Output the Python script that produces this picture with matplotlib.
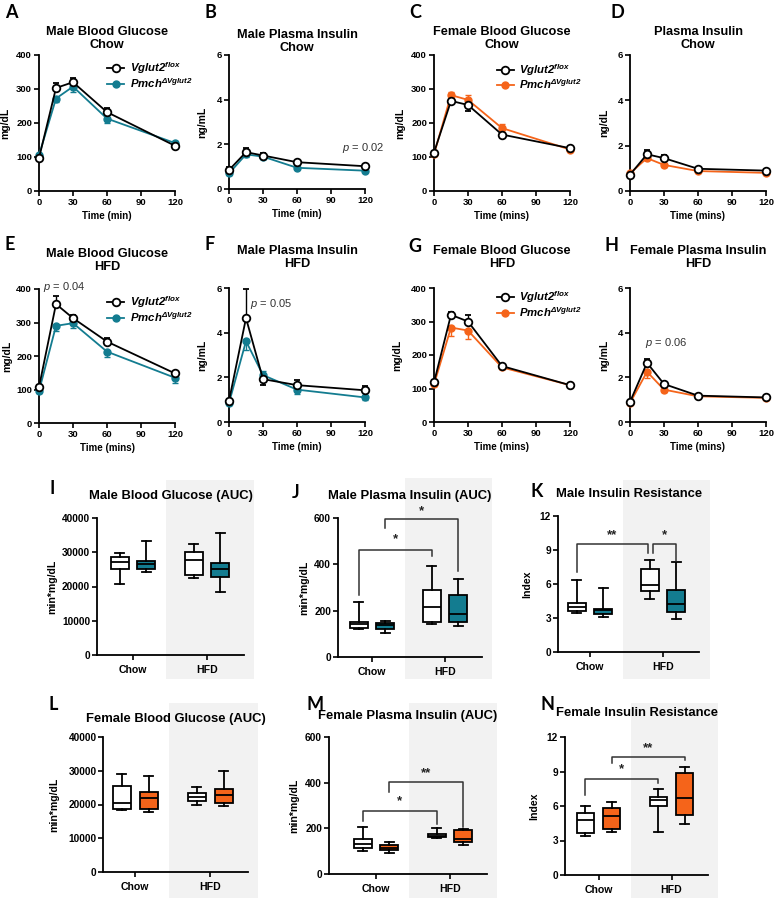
import matplotlib
matplotlib.use('Agg')
import matplotlib.pyplot as plt
from matplotlib.patches import Rectangle
from matplotlib import font_manager

# ---------------- data ----------------
time = [0, 15, 30, 60, 120]
time_ticks = [0, 30, 60, 90, 120]

# A: Male blood glucose, chow
A_ctrl = [97, 303, 320, 232, 133]
A_ctrl_err = [5, 15, 12, 12, 5]
A_ko = [105, 272, 307, 213, 141]
A_ko_err = [5, 10, 15, 12, 5]
# B: Male plasma insulin, chow
B_ctrl = [0.85, 1.65, 1.50, 1.20, 1.02]
B_ctrl_err = [0.12, 0.18, 0.10, 0.06, 0.05]
B_ko = [0.70, 1.55, 1.45, 0.95, 0.82]
B_ko_err = [0.08, 0.12, 0.10, 0.06, 0.05]
# C: Female blood glucose, chow
C_ctrl = [113, 265, 253, 166, 126]
C_ctrl_err = [5, 10, 18, 10, 5]
C_ko = [108, 282, 268, 185, 122]
C_ko_err = [5, 10, 15, 12, 5]
# D: Female plasma insulin, chow
D_ctrl = [0.72, 1.62, 1.45, 0.98, 0.90]
D_ctrl_err = [0.05, 0.20, 0.15, 0.05, 0.05]
D_ko = [0.78, 1.45, 1.15, 0.88, 0.80]
D_ko_err = [0.05, 0.10, 0.08, 0.05, 0.05]
# E: Male blood glucose, HFD
E_ctrl = [107, 355, 313, 243, 148]
E_ctrl_err = [5, 25, 10, 10, 5]
E_ko = [95, 290, 298, 213, 135]
E_ko_err = [5, 15, 15, 15, 15]
# F: Male plasma insulin, HFD
F_ctrl = [0.95, 4.65, 1.92, 1.65, 1.42]
F_ctrl_err = [0.10, 1.30, 0.25, 0.25, 0.20]
F_ko = [0.85, 3.62, 2.10, 1.45, 1.10]
F_ko_err = [0.10, 0.40, 0.20, 0.20, 0.10]
# G: Female blood glucose, HFD
G_ctrl = [118, 320, 300, 167, 110]
G_ctrl_err = [8, 8, 18, 5, 3]
G_ko = [112, 282, 273, 163, 110]
G_ko_err = [5, 25, 25, 5, 3]
# H: Female plasma insulin, HFD
H_ctrl = [0.90, 2.65, 1.70, 1.18, 1.10]
H_ctrl_err = [0.05, 0.15, 0.10, 0.05, 0.05]
H_ko = [0.85, 2.25, 1.45, 1.15, 1.08]
H_ko_err = [0.05, 0.30, 0.10, 0.05, 0.05]

groups = ['Chow', 'HFD']
# box stats: [min, q1, median, q3, max]
I_chow_ctrl = [20800, 25250, 27200, 28500, 29800]
I_chow_ko = [24100, 25250, 26500, 27500, 33300]
I_hfd_ctrl = [22500, 23300, 27800, 30000, 32400]
I_hfd_ko = [18400, 22900, 25250, 27000, 35700]

J_chow_ctrl = [119, 125, 141, 151, 237]
J_chow_ko = [102, 121, 138, 146, 156]
J_hfd_ctrl = [143, 151, 214, 288, 393]
J_hfd_ko = [134, 153, 185, 266, 335]

K_chow_ctrl = [3.45, 3.63, 3.98, 4.28, 6.34]
K_chow_ko = [3.10, 3.39, 3.69, 3.83, 5.69]
K_hfd_ctrl = [4.66, 5.34, 5.90, 7.29, 8.10]
K_hfd_ko = [2.95, 3.50, 4.20, 5.45, 7.96]

L_chow_ctrl = [18300, 18800, 20300, 25400, 29000]
L_chow_ko = [17650, 18800, 21800, 23700, 28400]
L_hfd_ctrl = [20000, 21100, 22150, 23500, 25200]
L_hfd_ko = [19700, 20500, 22800, 24500, 29800]

M_chow_ctrl = [99, 116, 131, 153, 208]
M_chow_ko = [94, 106, 116, 128, 140]
M_hfd_ctrl = [157, 162, 168, 177, 200]
M_hfd_ko = [128, 140, 154, 192, 196]

N_chow_ctrl = [3.38, 3.67, 4.77, 5.40, 6.04]
N_chow_ko = [3.73, 3.96, 5.12, 5.81, 6.36]
N_hfd_ctrl = [3.76, 6.04, 6.56, 6.79, 7.49]
N_hfd_ko = [4.42, 5.20, 6.70, 8.87, 9.39]

# ---------------- style ----------------
TEAL = '#137c90'
ORANGE = '#f5641a'
BAND = '#f2f2f2'
plt.rcParams['font.family'] = ['Liberation Sans', 'DejaVu Sans']
plt.rcParams['font.weight'] = 'bold'
plt.rcParams['axes.labelweight'] = 'bold'
plt.rcParams['axes.titleweight'] = 'bold'
plt.rcParams['mathtext.fontset'] = 'custom'
plt.rcParams['mathtext.rm'] = 'Liberation Sans:weight=normal'
plt.rcParams['mathtext.it'] = 'Liberation Sans:style=italic:weight=normal'
plt.rcParams['mathtext.bf'] = 'Liberation Sans:weight=bold'
plt.rcParams['mathtext.bfit'] = 'Liberation Sans:style=italic:weight=bold'

names = {f.name for f in font_manager.fontManager.ttflist}
LETTER_FONT = 'Lato' if 'Lato' in names else 'Liberation Sans'

LBL_CTRL = r'$\mathbfit{Vglut2}^{\mathbfit{flox}}$'
LBL_KO = r'$\mathbfit{Pmch}^{\mathbfit{\Delta Vglut2}}$'

W, H = 774, 898
fig = plt.figure(figsize=(W / 100, H / 100), dpi=100)


def add_ax(left, top, right, bottom):
    ax = fig.add_axes([left / W, 1 - bottom / H, (right - left) / W, (bottom - top) / H])
    ax.set_facecolor('none')
    for s in ('top', 'right'):
        ax.spines[s].set_visible(False)
    for s in ('left', 'bottom'):
        ax.spines[s].set_linewidth(1.3)
    return ax


def letter(x, y, s, size=13):
    fig.text(x / W, 1 - y / H, s, fontsize=size, fontweight='bold', family=LETTER_FONT,
             ha='left', va='top')


def line_panel(px, ctrl, ctrl_err, ko, ko_err, color, ymax, yticks, ylabel, ylab_x,
               xlabel, title, tpad, legend_anchor=None, pval=None):
    ax = add_ax(*px)
    up = [c >= k for c, k in zip(ctrl, ko)]
    ko_yerr = [[e if u else 0 for u, e in zip(up, ko_err)],
               [0 if u else e for u, e in zip(up, ko_err)]]
    ctrl_yerr = [[0 if u else e for u, e in zip(up, ctrl_err)],
                 [e if u else 0 for u, e in zip(up, ctrl_err)]]
    hk = ax.errorbar(time, ko, yerr=ko_yerr, color=color, marker='o', ms=5, mfc=color,
                     mec=color, lw=1.3, elinewidth=1, capsize=2.2, capthick=1, zorder=3)
    hc = ax.errorbar(time, ctrl, yerr=ctrl_yerr, color='black', marker='o', ms=5.5,
                     mfc='white', mec='black', mew=1.3, lw=1.3, elinewidth=1, capsize=2.2,
                     capthick=1, zorder=4)
    for cont in (hk, hc):
        for art in cont.get_children():
            art.set_clip_on(False)
    ax.set_xlim(0, 120)
    ax.set_xticks(time_ticks)
    ax.set_ylim(0, ymax)
    ax.set_yticks(yticks)
    ax.tick_params(direction='out', length=3.5, width=1.2, labelsize=6.8, pad=1.5)
    ax.set_title(title, fontsize=9.2, pad=tpad, linespacing=1.1)
    ax.set_xlabel(xlabel, fontsize=7, labelpad=3)
    ax.set_ylabel(ylabel, fontsize=7.5)
    ax.yaxis.set_label_coords(ylab_x, 0.5)
    if legend_anchor is not None:
        ax.legend([hc[0], hk[0]], [LBL_CTRL, LBL_KO], loc='upper left',
                  bbox_to_anchor=legend_anchor, frameon=False, fontsize=8.2,
                  handlelength=1.5, handletextpad=0.5, labelspacing=0.0,
                  borderaxespad=0, borderpad=0)
    if pval is not None:
        x, y, s = pval
        ax.text(x, y, r'$p$ = ' + s, fontsize=8, fontweight='normal', color='#333333',
                ha='center', va='center')
    return ax


def box_panel(yaxis_x, chow_x, hfd_x, top, bottom, stats, color, ymax, yticks,
              ylabel, ylab_x, title, tpad, brackets, band_y):
    unit = hfd_x - chow_x
    ax = add_ax(yaxis_x, top, chow_x + 1.5 * unit, bottom)
    ax.set_xlim((yaxis_x - chow_x) / unit, 1.5)
    ax.set_ylim(0, ymax)
    pos = [-0.18, 0.18, 0.82, 1.18]
    bstats = []
    for s in stats:
        bstats.append({'whislo': s[0], 'q1': s[1], 'med': s[2], 'q3': s[3],
                       'whishi': s[4], 'fliers': []})
    bp = ax.bxp(bstats, positions=pos, widths=0.24, capwidths=0.12, patch_artist=True,
                showfliers=False,
                boxprops=dict(linewidth=1.3, edgecolor='black'),
                medianprops=dict(linewidth=1.3, color='black'),
                whiskerprops=dict(linewidth=1.3, color='black'),
                capprops=dict(linewidth=1.3, color='black'))
    for i, patch in enumerate(bp['boxes']):
        patch.set_facecolor('white' if i % 2 == 0 else color)
    ax.set_xticks([0, 1])
    ax.set_xticklabels(groups, fontsize=7.6)
    ax.set_yticks(yticks)
    ax.tick_params(axis='y', direction='out', length=3.5, width=1.2, pad=1.5, labelsize=7.3)
    ax.tick_params(axis='x', direction='out', length=3.5, width=1.2, pad=4)
    ax.set_title(title, fontsize=9.4, pad=tpad)
    ax.set_ylabel(ylabel, fontsize=7.6)
    ax.yaxis.set_label_coords(ylab_x, 0.5)
    for (i, j, ybar, yb1, yb2, txt, ty) in brackets:
        x1, x2 = pos[i[0]] + i[1], pos[j[0]] + j[1]
        ax.plot([x1, x1, x2, x2], [yb1, ybar, ybar, yb2], color='#333333', lw=1.1,
                clip_on=False)
        ax.text((x1 + x2) / 2, ty, txt, ha='center', va='center', fontsize=9.5,
                fontweight='bold', color='#222222', clip_on=False)
    # background band for HFD
    x0 = ax.transData.transform((0.45, 0))[0]
    x1b = ax.transData.transform((1.64, 0))[0]
    y0, y1 = band_y
    fig.patches.append(Rectangle((x0 / W, 1 - y1 / H), (x1b - x0) / W, (y1 - y0) / H,
                                 transform=fig.transFigure, facecolor=BAND,
                                 edgecolor='none', zorder=-1))
    return ax


# ---------------- row 1 ----------------
line_panel((39, 55, 175, 191), A_ctrl, A_ctrl_err, A_ko, A_ko_err, TEAL, 400,
           [0, 100, 200, 300, 400], 'mg/dL', -0.215, 'Time (min)',
           'Male Blood Glucose\nChow', 5, legend_anchor=(0.5, 0.96))
line_panel((229, 55, 365, 189), B_ctrl, B_ctrl_err, B_ko, B_ko_err, TEAL, 6,
           [0, 2, 4, 6], 'ng/mL', -0.16, 'Time (min)',
           'Male Plasma Insulin\nChow', 3, pval=(118, 1.85, '0.02'))
line_panel((434, 55, 570, 191), C_ctrl, C_ctrl_err, C_ko, C_ko_err, ORANGE, 400,
           [0, 100, 200, 300, 400], 'mg/dL', -0.21, 'Time (mins)',
           'Female Blood Glucose\nChow', 5, legend_anchor=(0.46, 0.95))
line_panel((630, 55, 766, 191), D_ctrl, D_ctrl_err, D_ko, D_ko_err, ORANGE, 6,
           [0, 2, 4, 6], 'ng/dL', -0.155, 'Time (mins)',
           'Plasma Insulin\nChow', 5)

# ---------------- row 2 ----------------
line_panel((39, 289, 175, 423), E_ctrl, E_ctrl_err, E_ko, E_ko_err, TEAL, 400,
           [0, 100, 200, 300, 400], 'mg/dL', -0.2, 'Time (mins)',
           'Male Blood Glucose\nHFD', 14, legend_anchor=(0.5, 0.96),
           pval=(22, 405, '0.04'))
line_panel((229, 288, 365, 422), F_ctrl, F_ctrl_err, F_ko, F_ko_err, TEAL, 6,
           [0, 2, 4, 6], 'ng/mL', -0.16, 'Time (min)',
           'Male Plasma Insulin\nHFD', 15, pval=(37, 5.3, '0.05'))
line_panel((434, 288, 570, 422), G_ctrl, G_ctrl_err, G_ko, G_ko_err, ORANGE, 400,
           [0, 100, 200, 300, 400], 'mg/dL', -0.23, 'Time (mins)',
           'Female Blood Glucose\nHFD', 15, legend_anchor=(0.46, 0.99))
line_panel((630, 288, 766, 422), H_ctrl, H_ctrl_err, H_ko, H_ko_err, ORANGE, 6,
           [0, 2, 4, 6], 'ng/mL', -0.155, 'Time (mins)',
           'Female Plasma Insulin\nHFD', 15, pval=(32, 3.55, '0.06'))

# ---------------- row 3 ----------------
box_panel(97, 133, 207, 518, 655,
          [I_chow_ctrl, I_chow_ko, I_hfd_ctrl, I_hfd_ko], TEAL, 40000,
          [0, 10000, 20000, 30000, 40000], 'min*mg/dL', -0.27,
          'Male Blood Glucose (AUC)', 14, [], (480, 679))
box_panel(338, 372, 445, 518, 657,
          [J_chow_ctrl, J_chow_ko, J_hfd_ctrl, J_hfd_ko], TEAL, 600,
          [0, 200, 400, 600], 'min*mg/dL', -0.2,
          'Male Plasma Insulin (AUC)', 14,
          [((0, 0), (2, 0), 462, 269, 434, '*', 508),
           ((1, 0), (3, 0), 594, 558, 371, '*', 630)], (478, 679))
box_panel(558, 590, 663, 516, 652,
          [K_chow_ctrl, K_chow_ko, K_hfd_ctrl, K_hfd_ko], TEAL, 12,
          [0, 3, 6, 9, 12], 'Index', -0.18,
          'Male Insulin Resistance', 14,
          [((0, 0), (2, -0.03), 9.5, 7.08, 8.7, '**', 10.3),
           ((2, 0.04), (3, 0), 9.5, 8.76, 8.0, '*', 10.3)], (480, 679))

# ---------------- row 4 ----------------
box_panel(103.5, 135, 210, 737, 872,
          [L_chow_ctrl, L_chow_ko, L_hfd_ctrl, L_hfd_ko], ORANGE, 40000,
          [0, 10000, 20000, 30000, 40000], 'min*mg/dL', -0.31,
          'Female Blood Glucose (AUC)', 11, [], (703, 898))
box_panel(329, 376, 450, 737, 874,
          [M_chow_ctrl, M_chow_ko, M_hfd_ctrl, M_hfd_ko], ORANGE, 600,
          [0, 200, 400, 600], 'min*mg/dL', -0.19,
          'Female Plasma Insulin (AUC)', 13,
          [((0, 0), (2, 0), 278, 230, 219, '*', 317),
           ((1, 0), (3, 0), 403, 360, 208, '**', 443)], (703, 898))
box_panel(565, 598.5, 671.5, 737, 875,
          [N_chow_ctrl, N_chow_ko, N_hfd_ctrl, N_hfd_ko], ORANGE, 12,
          [0, 3, 6, 9, 12], 'Index', -0.18,
          'Female Insulin Resistance', 15,
          [((0, 0), (2, 0), 8.32, 6.94, 8.03, '*', 9.16),
           ((1, 0), (3, 0), 10.26, 9.74, 10.03, '**', 11.07)], (703, 898))

# ---------------- panel letters ----------------
for x, y, s in [(5, 4, 'A'), (205, 4, 'B'), (409, 4, 'C'), (611, 4, 'D'),
                (5, 236, 'E'), (205, 236, 'F'), (408, 238, 'G'), (604, 237, 'H'),
                (50, 480, 'I'), (292, 484, 'J'), (531, 483, 'K'),
                (49, 696, 'L'), (306, 696, 'M'), (541, 696, 'N')]:
    letter(x, y, s)

fig.savefig('out.png', dpi=100)
